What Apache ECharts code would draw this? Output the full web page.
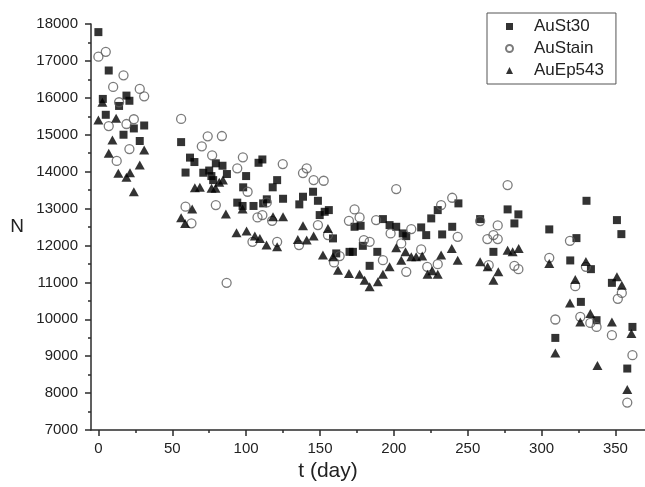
<!DOCTYPE html>
<html>
<head>
<meta charset="utf-8">
<script src="https://cdn.jsdelivr.net/npm/echarts@6/dist/echarts.min.js"></script>
<style>
  html, body { margin: 0; padding: 0; background: #fff; }
  #chart { width: 645px; height: 487px; }
</style>
</head>
<body>
<div id="chart"></div>
<script>
// Cell counts N against time t (day) for three samples
const seriesNames = ['AuSt30', 'AuStain', 'AuEp543'];

const st30Data = [
  [0, 17780], [7, 16740], [19, 16060], [21, 15920], [3, 15970], [14, 15780], [5, 15540],
  [24, 15170], [31, 15250], [17, 15000], [28, 14830],
  [56, 14800], [59, 13975], [62, 14380], [65, 14260], [71, 13970], [75, 14030], [76.5, 13880],
  [77.7, 13770], [79.5, 14225], [84, 14160], [87, 13935], [100, 13880], [98, 13575], [94, 13160],
  [97.6, 13070], [105, 13070], [111.5, 13140], [114, 13250], [108.4, 14240], [111, 14330],
  [118, 13575], [121, 13770], [125, 13265], [136, 13113], [138.5, 13320], [145.3, 13455],
  [148.6, 13210], [149.8, 12823], [153.2, 12912], [156, 12958], [158.8, 12191], [161, 11784],
  [170, 11827], [172.3, 11827], [173.4, 12506], [177.5, 12532], [179, 11990], [183.6, 11448],
  [188.8, 11827], [192.6, 12714], [197.1, 12551], [201.6, 12506], [206, 12326], [208.4, 12253],
  [218.5, 12489], [221.9, 12280], [225.3, 12733], [229.7, 12958], [232.7, 12299], [239.5, 12506],
  [243.7, 13140], [258.4, 12714], [267.4, 11827], [277, 12977], [281.6, 12597], [284.3, 12842],
  [305.2, 12435], [309.3, 9495], [319.4, 11594], [323.6, 12199], [326.6, 10471], [330.4, 13210],
  [333.4, 11358], [337.2, 9975], [347.6, 10987], [351, 12687], [354, 12307], [358, 8665],
  [361.5, 9793]
];

const stainData = [
  [0, 17115], [5, 17245], [17, 16610], [10, 16295], [28, 16240], [31, 16040], [14, 15880],
  [7, 15235], [24, 15420], [19, 15290], [21, 14610], [12.4, 14290],
  [56, 15427], [59, 13050], [63, 12600], [70, 14686], [74, 14957], [77, 14442], [79.5, 13094],
  [83.6, 14965], [86.8, 10987], [94, 14090], [97.8, 14387], [101, 13455], [104.3, 12099],
  [107.7, 12760], [111, 12822], [114, 13167], [117.6, 12668], [121, 12099], [124.8, 14206],
  [135.8, 12009], [138.5, 13962], [141, 14090], [145.7, 13772], [148.6, 12551], [152.5, 13753],
  [155.4, 12280], [159.5, 11540], [163.3, 11711], [169.6, 12668], [173.4, 12977], [176.8, 12760],
  [179.7, 12145], [183.6, 12099], [188, 12687], [192.6, 11602], [197.8, 12326], [201.6, 13528],
  [205, 12055], [208.4, 11285], [211.8, 12443], [218.5, 11892], [222.6, 11421], [229.7, 11494],
  [232, 13094], [239.5, 13292], [243.2, 12234], [258.4, 12660], [263.3, 12172], [264.2, 11467],
  [267.4, 12280], [270.3, 12543], [270.3, 12172], [277, 13637], [281.6, 11448], [284.3, 11358],
  [305.2, 11665], [309.3, 9994], [319.2, 12126], [322.8, 10897], [326.2, 10065], [330, 11421],
  [333, 9902], [337.2, 9793], [347.6, 9568], [351.6, 10553], [354.3, 10715], [358, 7743],
  [361.5, 9026]
];

const ep543Data = [
  [0, 15400], [2.7, 15880], [12, 15445], [9.5, 14857], [31, 14585], [7, 14500], [13.5, 13954],
  [19, 13845], [21.4, 13970], [28, 14179], [24, 13455],
  [56, 12750], [58.7, 12597], [63.5, 12985], [65.3, 13563], [68.7, 13574], [76.6, 13547],
  [79.3, 13547], [81.8, 13710], [84.3, 13772], [86.3, 12850], [93.5, 12343], [97.6, 12985],
  [100.3, 12389], [105.9, 12253], [109.3, 12191], [113.8, 12009], [118.2, 12777], [121, 11963],
  [125, 12777], [135, 12164], [138.5, 12532], [141, 12150], [145.7, 12253], [152, 11738],
  [155.4, 12462], [158.8, 11692], [162.2, 11331], [169.6, 11242], [176.8, 11223], [180.2, 11060],
  [183.6, 10878], [189.2, 11014], [192.6, 11223], [197.1, 11421], [201.6, 11936], [205, 11602],
  [207.9, 11827], [211.8, 11692], [215.1, 11692], [219.2, 11711], [222.8, 11220], [226, 11312],
  [229.7, 11223], [232, 11738], [239.2, 11920], [243.2, 11602], [258.4, 11556], [263.5, 11421],
  [267.4, 11060], [270.7, 11285], [277, 11873], [280.4, 11827], [284.5, 11920], [305.2, 11513],
  [309.3, 9088], [319.2, 10444], [322.8, 11079], [326.2, 9929], [330, 11567], [333, 10157],
  [337.8, 8750], [347.6, 9929], [351, 11149], [354.3, 10924], [358, 8096], [360.8, 9614]
];

// Axis ticks
const xMajorTicks = [0, 50, 100, 150, 200, 250, 300, 350];
const xMinorTicks = [25, 75, 125, 175, 225, 275, 325];
const xRange = [-5, 370];
const yRange = [7000, 18000];
const yStep = 1000;

const FONT = '"Liberation Sans", Arial, sans-serif';
const AXIS_COLOR = '#2b2b2b';
const TEXT_COLOR = '#222';

const chart = echarts.init(document.getElementById('chart'), null, { renderer: 'canvas' });

chart.setOption({
  animation: false,
  backgroundColor: '#fff',
  grid: { left: 91, top: 24, right: -1, bottom: 57, containLabel: false },
  legend: {
    orient: 'vertical',
    left: 487,
    top: 13,
    padding: [5, 12, 5, 18],
    itemWidth: 7,
    itemHeight: 7,
    itemGap: 5,
    borderColor: '#555',
    borderWidth: 1,
    data: seriesNames,
    textStyle: { fontFamily: FONT, fontSize: 17, color: TEXT_COLOR, lineHeight: 17, padding: [0, 0, 0, 16] }
  },
  xAxis: [
    {
      type: 'value',
      position: 'bottom',
      min: xRange[0],
      max: xRange[1],
      name: 't (day)',
      nameLocation: 'middle',
      nameGap: 31,
      nameTextStyle: { fontFamily: FONT, fontSize: 21, color: TEXT_COLOR, padding: [0, 80, 0, 0] },
      axisLine: { show: true, onZero: false, lineStyle: { color: AXIS_COLOR, width: 1.5 } },
      axisTick: { show: true, customValues: xMajorTicks, length: 6, lineStyle: { color: AXIS_COLOR, width: 1.5 } },
      axisLabel: { customValues: xMajorTicks, margin: 11, fontFamily: FONT, fontSize: 15, color: TEXT_COLOR },
      splitLine: { show: false }
    },
    {
      type: 'value',
      position: 'bottom',
      min: xRange[0],
      max: xRange[1],
      axisLine: { show: false, onZero: false },
      axisTick: { show: true, customValues: xMinorTicks, length: 3, lineStyle: { color: AXIS_COLOR, width: 1.5 } },
      axisLabel: { show: false },
      splitLine: { show: false }
    }
  ],
  yAxis: {
    type: 'value',
    min: yRange[0],
    max: yRange[1],
    interval: yStep,
    name: 'N',
    nameLocation: 'middle',
    nameRotate: 0,
    nameGap: 67,
    nameTextStyle: { fontFamily: FONT, fontSize: 19, color: TEXT_COLOR },
    axisLine: { show: true, onZero: false, lineStyle: { color: AXIS_COLOR, width: 1.5 } },
    axisTick: { show: true, length: 6, lineStyle: { color: AXIS_COLOR, width: 1.5 } },
    minorTick: { show: true, splitNumber: 2, length: 3, lineStyle: { color: AXIS_COLOR, width: 1.5 } },
    axisLabel: {
      margin: 13, fontFamily: FONT, fontSize: 15, color: TEXT_COLOR,
      formatter: (v) => String(v)
    },
    splitLine: { show: false }
  },
  series: [
    {
      name: seriesNames[0],
      type: 'scatter',
      symbol: 'rect',
      symbolSize: 8,
      itemStyle: { color: '#000' },
      data: st30Data
    },
    {
      name: seriesNames[1],
      type: 'scatter',
      symbol: 'circle',
      symbolSize: 9,
      itemStyle: { color: 'rgba(255,255,255,0)', borderColor: '#5a5a5a', borderWidth: 1.3 },
      data: stainData
    },
    {
      name: seriesNames[2],
      type: 'scatter',
      symbol: 'triangle',
      symbolSize: [10, 9],
      itemStyle: { color: '#000' },
      data: ep543Data
    }
  ]
});
</script>
</body>
</html>
